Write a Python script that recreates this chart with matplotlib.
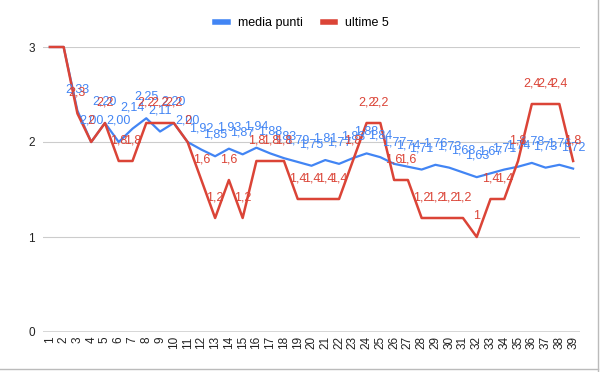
import matplotlib
matplotlib.use("Agg")
import matplotlib.pyplot as plt
from matplotlib.lines import Line2D

categories = list(range(1, 40))
media_punti = [3.00, 3.00, 2.33, 2.00, 2.20, 2.00, 2.14, 2.25, 2.11, 2.20,
               2.00, 1.92, 1.85, 1.93, 1.87, 1.94, 1.88, 1.83, 1.79, 1.75,
               1.81, 1.77, 1.83, 1.88, 1.84, 1.77, 1.74, 1.71, 1.76, 1.73,
               1.68, 1.63, 1.67, 1.71, 1.74, 1.78, 1.73, 1.76, 1.72]
ultime_5 = [3.0, 3.0, 2.3, 2.0, 2.2, 1.8, 1.8, 2.2, 2.2, 2.2,
            2.0, 1.6, 1.2, 1.6, 1.2, 1.8, 1.8, 1.8, 1.4, 1.4,
            1.4, 1.4, 1.8, 2.2, 2.2, 1.6, 1.6, 1.2, 1.2, 1.2,
            1.2, 1.0, 1.4, 1.4, 1.8, 2.4, 2.4, 2.4, 1.8]
y_ticks = [0, 1, 2, 3]

BLUE = "#4285F4"
RED = "#DB4437"
plt.rcParams['font.family'] = ['Liberation Sans', 'DejaVu Sans']

fig = plt.figure(figsize=(6.02, 3.72), dpi=100)
W, H = 602, 372
ax = fig.add_axes([43 / W, (H - 332) / H, (580 - 43) / W, (332 - 47) / H])

ax.plot(categories, media_punti, color=BLUE, lw=1.6, clip_on=False, zorder=3)
ax.plot(categories, ultime_5, color=RED, lw=1.8, clip_on=False, zorder=4)

def fmt_blue(v):
    return f"{v:.2f}".replace(".", ",")

def fmt_red(v):
    s = f"{v:.1f}"
    if s.endswith(".0"):
        s = s[:-2]
    return s.replace(".", ",")

for x, v in zip(categories, media_punti):
    if x <= 2:
        continue
    ax.annotate(fmt_blue(v), (x, v), xytext=(0, 15.5), textcoords="offset points",
                ha="center", va="center", fontsize=9, color=BLUE, zorder=5)
for x, v in zip(categories, ultime_5):
    if x <= 2:
        continue
    ax.annotate(fmt_red(v), (x, v), xytext=(0, 15), textcoords="offset points",
                ha="center", va="center", fontsize=9, color=RED, zorder=6)

ax.set_xlim(0.5, 39.5)
ax.set_ylim(0, 3)
ax.set_yticks(y_ticks)
ax.set_yticklabels([str(t) for t in y_ticks], fontsize=8.5, color="#222222")
ax.set_xticks(categories)
ax.set_xticklabels([str(c) for c in categories], rotation=90, fontsize=8.5,
                   color="#222222", va="top")
ax.tick_params(axis="both", length=0, pad=3)
ax.tick_params(axis="y", pad=6)
for s in ax.spines.values():
    s.set_visible(False)
ax.axhline(0, color="#333333", lw=1.0, zorder=2)
for t in y_ticks[1:]:
    ax.axhline(t, color="#cccccc", lw=0.8, zorder=1)

handles = [Line2D([], [], color=BLUE, lw=4), Line2D([], [], color=RED, lw=4)]
fig.legend(handles, ["media punti", "ultime 5"], loc="center",
           bbox_to_anchor=(302 / W, (H - 23) / H), ncol=2, frameon=False,
           fontsize=9, handlelength=1.0, handletextpad=0.8, columnspacing=1.6)

# outer frame at right and bottom
fig.add_artist(Line2D([598 / W, 598 / W], [0, 1], color="#bbbbbb", lw=1,
                      transform=fig.transFigure))
fig.add_artist(Line2D([0, 598 / W], [(H - 369) / H, (H - 369) / H],
                      color="#bbbbbb", lw=1, transform=fig.transFigure))

fig.savefig("out.png", dpi=100)
